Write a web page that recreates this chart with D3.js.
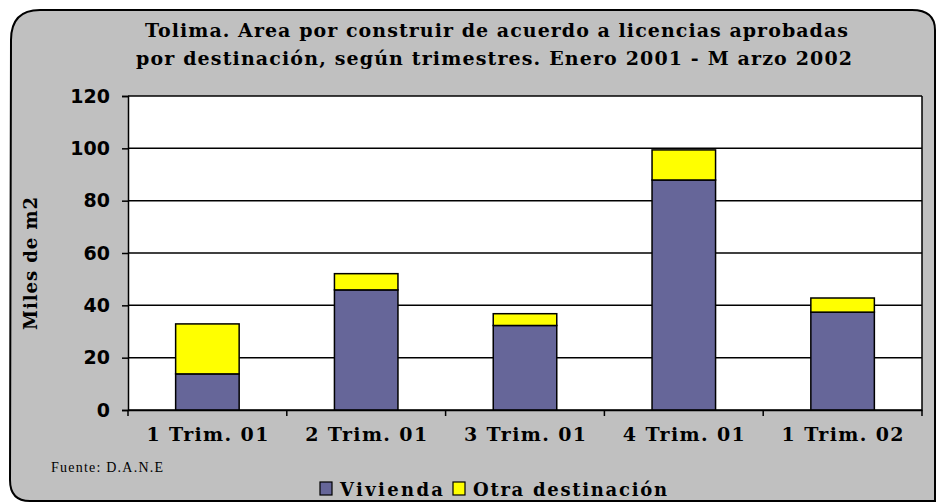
<!DOCTYPE html>
<html>
<head>
<meta charset="utf-8">
<script src="https://cdn.jsdelivr.net/npm/d3@7"></script>
<style>
  body { margin: 0; background: #fff; }
  svg { display: block; }
</style>
</head>
<body>
<div id="chart"></div>
<script>
const categories = ['1 Trim. 01', '2 Trim. 01', '3 Trim. 01', '4 Trim. 01', '1 Trim. 02']
const vivienda = [13.8, 45.9, 32.3, 87.9, 37.4]
const otra = [19.1, 6.2, 4.5, 11.5, 5.4]
const seriesNames = ['Vivienda', 'Otra destinación']
const yTicks = [0, 20, 40, 60, 80, 100, 120]
const titleLines = [
  'Tolima. Area por construir de acuerdo a licencias aprobadas',
  'por destinación, según trimestres. Enero 2001 - M arzo 2002'
]

const W = 938, H = 502
const colors = ['#666699', '#ffff00']
const serif = '"DejaVu Serif", serif'
const sans = '"DejaVu Sans", sans-serif'

const svg = d3.select('#chart').append('svg')
  .attr('width', W)
  .attr('height', H)

// marco exterior
svg.append('path')
  .attr('d', 'M11,40 Q11,10 40,10 L912,10 Q935,10 935,30 L935,501 L30,501 Q10,501 10,480 Z')
  .attr('fill', '#c0c0c0')
  .attr('stroke', '#000')
  .attr('stroke-width', 2)

const plot = { left: 128, right: 922, top: 96, bottom: 410 }

const x = d3.scaleBand()
  .domain(categories)
  .range([plot.left, plot.right])
  .padding(0)

const y = d3.scaleLinear()
  .domain([0, 120])
  .range([plot.bottom, plot.top])

svg.append('rect')
  .attr('x', plot.left)
  .attr('y', plot.top)
  .attr('width', plot.right - plot.left)
  .attr('height', plot.bottom - plot.top)
  .attr('fill', '#fff')

// lineas de division
svg.append('g')
  .selectAll('line')
  .data(yTicks)
  .join('line')
  .attr('x1', plot.left)
  .attr('x2', plot.right)
  .attr('y1', d => y(d))
  .attr('y2', d => y(d))
  .attr('stroke', '#000')
  .attr('stroke-width', 1.5)

svg.append('line')
  .attr('x1', plot.right).attr('x2', plot.right)
  .attr('y1', plot.top).attr('y2', plot.bottom)
  .attr('stroke', '#000').attr('stroke-width', 1.5)

// barras apiladas
const rows = categories.map((c, i) => ({ cat: c, v0: vivienda[i], v1: otra[i] }))
const stack = d3.stack().keys(['v0', 'v1'])(rows)
const barW = x.bandwidth() * 0.4

svg.append('g')
  .selectAll('g')
  .data(stack)
  .join('g')
  .attr('fill', (d, i) => colors[i])
  .selectAll('rect')
  .data(d => d)
  .join('rect')
  .attr('x', d => x(d.data.cat) + (x.bandwidth() - barW) / 2)
  .attr('y', d => y(d[1]))
  .attr('width', barW)
  .attr('height', d => y(d[0]) - y(d[1]))
  .attr('stroke', '#000')
  .attr('stroke-width', 1.5)

// eje y
const yAxis = svg.append('g')
  .attr('transform', `translate(${plot.left},0)`)
  .call(d3.axisLeft(y).tickValues(yTicks).tickSize(6).tickPadding(12))
yAxis.select('.domain').attr('stroke', '#000').attr('stroke-width', 1.5)
yAxis.selectAll('.tick line').attr('stroke', '#000').attr('stroke-width', 1.5)
yAxis.selectAll('text')
  .attr('font-family', sans)
  .attr('font-weight', 'bold')
  .attr('font-size', 19)
  .attr('fill', '#000')

// eje x
const xAxis = svg.append('g')
  .attr('transform', `translate(0,${plot.bottom})`)
  .call(d3.axisBottom(x).tickSize(0).tickPadding(18))
xAxis.select('.domain').attr('stroke', '#000').attr('stroke-width', 1.5)
xAxis.selectAll('text')
  .attr('font-family', serif)
  .attr('font-weight', 'bold')
  .attr('font-size', 19)
  .attr('fill', '#000')
  .attr('textLength', 122)
  .attr('lengthAdjust', 'spacing')

svg.append('g')
  .selectAll('line')
  .data(categories.concat(['end']))
  .join('line')
  .attr('x1', (d, i) => i < categories.length ? x(d) : plot.right)
  .attr('x2', (d, i) => i < categories.length ? x(d) : plot.right)
  .attr('y1', plot.bottom)
  .attr('y2', plot.bottom + 6)
  .attr('stroke', '#000')
  .attr('stroke-width', 1.5)

// titulo
svg.append('g')
  .selectAll('text')
  .data(titleLines)
  .join('text')
  .attr('x', (d, i) => i === 0 ? 145 : 136)
  .attr('y', (d, i) => 37 + i * 28)
  .attr('font-family', serif)
  .attr('font-weight', 'bold')
  .attr('font-size', 19)
  .attr('textLength', (d, i) => i === 0 ? 703 : 716)
  .attr('lengthAdjust', 'spacing')
  .text(d => d)

// titulo eje y
svg.append('text')
  .attr('transform', 'translate(37,330) rotate(-90)')
  .attr('font-family', serif)
  .attr('font-weight', 'bold')
  .attr('font-size', 18)
  .attr('textLength', 133)
  .attr('lengthAdjust', 'spacing')
  .text('Miles de m2')

// fuente
svg.append('text')
  .attr('x', 51)
  .attr('y', 472)
  .attr('font-family', '"Liberation Serif", serif')
  .attr('font-size', 14)
  .attr('textLength', 112)
  .attr('lengthAdjust', 'spacing')
  .text('Fuente: D.A.N.E')

// leyenda
const items = [
  { name: seriesNames[0], x: 320, w: 103 },
  { name: seriesNames[1], x: 453, w: 194 }
]
const lg = svg.append('g')
  .selectAll('g')
  .data(items)
  .join('g')
  .attr('transform', d => `translate(${d.x},482)`)
lg.append('rect')
  .attr('width', 12)
  .attr('height', 13)
  .attr('fill', (d, i) => colors[i])
  .attr('stroke', '#000')
  .attr('stroke-width', 1.2)
lg.append('text')
  .attr('x', 20)
  .attr('y', 14)
  .attr('font-family', serif)
  .attr('font-weight', 'bold')
  .attr('font-size', 18)
  .attr('textLength', d => d.w)
  .attr('lengthAdjust', 'spacing')
  .text(d => d.name)
</script>
</body>
</html>
